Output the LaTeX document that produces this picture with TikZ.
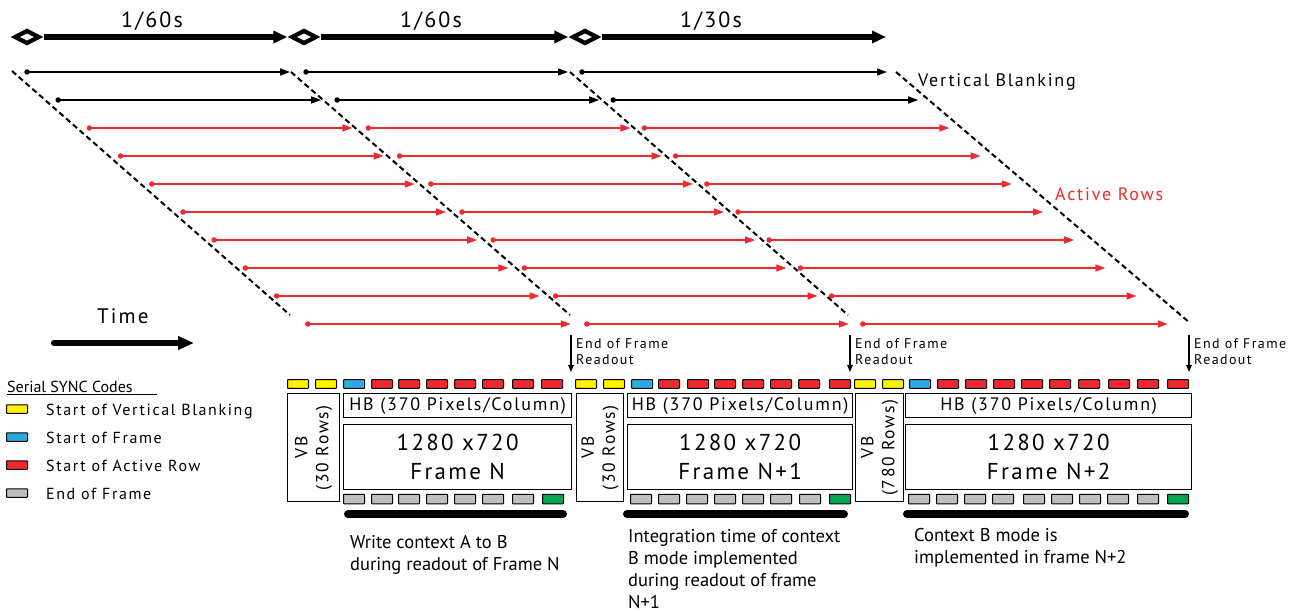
\documentclass[tikz,border=0pt]{standalone}
\usepackage{fontspec}
\setmainfont{PT Sans}
\newfontfamily\trk[LetterSpace=10]{PT Sans}
\usetikzlibrary{arrows.meta,shapes.geometric}
\definecolor{sred}{HTML}{EE2A2E}
\definecolor{syel}{HTML}{FFF200}
\definecolor{sblu}{HTML}{29ABE2}
\definecolor{sgry}{HTML}{BEBEBE}
\definecolor{sgrn}{HTML}{00A651}
\tikzset{
  dotn/.style={circle,inner sep=0,minimum size=5.5},
  rowarrow/.style={line width=1.5,-{Triangle[length=10,width=7]}},
  tline/.style={line width=5.5,-{Triangle[length=14,width=12]}},
  dmo/.style={diamond,aspect=2,fill=black,inner sep=0,minimum width=33,minimum height=17},
  dmi/.style={diamond,aspect=2,fill=white,inner sep=0,minimum width=14,minimum height=7},
  dashl/.style={dashed,dash pattern=on 5.5 off 3.5,line width=2},
  sync/.style={draw=black,line width=1,rounded corners=0.6,minimum width=21,minimum height=8.5,inner sep=0,anchor=west},
  bsync/.style={sync,minimum height=9.5},
  frbox/.style={draw=black,line width=1.3,inner sep=0,anchor=north west},
  bar/.style={line width=8,line cap=round},
  eof/.style={line width=1.4,-{Triangle[length=7,width=5.5]}},
  lbl/.style={anchor=base west,inner sep=0},
}
\begin{document}
\begin{tikzpicture}[x=1pt,y=-1pt]
\useasboundingbox (0,0) rectangle (1299,612);
% ---------- timeline ----------
\node[dmo] (D1) at (27,37) {};
\node[dmo] (D2) at (304,37) {};
\node[dmo] (D3) at (585,37) {};
\coordinate (D4) at (886,37);
\draw[tline] (D1.east) -- (D2.west);
\draw[tline] (D2.east) -- (D3.west);
\draw[tline] (D3.east) -- (D4);
\node[dmi] at (D1) {};
\node[dmi] at (D2) {};
\node[dmi] at (D3) {};
\node[lbl,anchor=base,font=\fontsize{22}{26}\selectfont\trk] (L1) at (152,28) {1/60s};
\node[lbl,anchor=base,font=\fontsize{22}{26}\selectfont\trk] (L2) at (431,28) {1/60s};
\node[lbl,anchor=base,font=\fontsize{22}{26}\selectfont\trk] (L3) at (711,28) {1/30s};
% ---------- rows ----------
\foreach \i in {0,...,9}{
  \pgfmathsetmacro\yy{72+28*\i}
  \pgfmathsetmacro\xa{27+31.2*\i}
  \pgfmathsetmacro\ta{\xa+263}
  \pgfmathsetmacro\xb{\xa+279}
  \pgfmathsetmacro\tb{\xb+262}
  \pgfmathsetmacro\xc{\xb+276}
  \pgfmathsetmacro\tc{\xc+305}
  \ifnum\i<2 \def\col{black}\else\def\col{sred}\fi
  \node[dotn,fill=\col] (a\i) at (\xa,\yy) {};
  \node[dotn,fill=\col] (b\i) at (\xb,\yy) {};
  \node[dotn,fill=\col] (c\i) at (\xc,\yy) {};
  \coordinate (ta\i) at (\ta,\yy);
  \coordinate (tb\i) at (\tb,\yy);
  \coordinate (tc\i) at (\tc,\yy);
  \draw[rowarrow,\col] (a\i.center) -- (ta\i);
  \draw[rowarrow,\col] (b\i.center) -- (tb\i);
  \draw[rowarrow,\col] (c\i.center) -- (tc\i);
}
% ---------- dashed frame boundaries ----------
\coordinate (s1) at (12,71);  \coordinate (e1) at (290,315);
\coordinate (s2) at (291,72); \coordinate (e2) at (570,315);
\coordinate (s3) at (570,72); \coordinate (e3) at (848,315);
\coordinate (s4) at (896,72); \coordinate (e4) at (1190,323);
\draw[dashl] (s1) -- (e1);
\draw[dashl] (s2) -- (e2);
\draw[dashl] (s3) -- (e3);
\draw[dashl] (s4) -- (e4);
\node[lbl,font=\fontsize{18}{22}\selectfont\trk] (VBl) at (918,87) {Vertical Blanking};
\node[lbl,text=sred,font=\fontsize{18}{22}\selectfont\trk] (ARl) at (1055,201) {Active Rows};
% ---------- time arrow ----------
\node[lbl,font=\fontsize{21}{25}\selectfont\trk] (TIl) at (97,324) {Time};
\coordinate (ts) at (54,343); \coordinate (te) at (194,343);
\draw[line width=6,line cap=round,-{Triangle[length=16,width=13]}] (ts) -- (te);
% ---------- end of frame readout ----------
\foreach \n/\x in {1/571,2/850,3/1189}{
  \coordinate (ef\n a) at (\x,335);
  \coordinate (ef\n b) at (\x,372);
  \draw[eof] (ef\n a) -- (ef\n b);
  \node[lbl,align=left,font=\fontsize{14}{17}\selectfont\trk] (eft\n) at (\x+5,365) {End of Frame\\Readout};
}
% ---------- legend ----------
\node[lbl,font=\fontsize{16}{18}\selectfont] (lgt) at (7,392) {Serial SYNC Codes};
\draw[line width=1] (7,394.5) -- (157,394.5);
\foreach \n/\c/\t [count=\k from 0] in {1/syel/Start of Vertical Blanking,2/sblu/Start of Frame,3/sred/Start of Active Row,4/sgry/End of Frame}{
  \node[sync,fill=\c] (lg\n) at (6,409+28*\k) {};
  \node[lbl,font=\fontsize{16}{19}\selectfont\trk] (lgl\n) at (46,415+28*\k) {\t};
}
% ---------- sync code rows ----------
\foreach \x/\c in {287/syel,315/syel,343/sblu,371/sred,398/sred,426/sred,454/sred,482/sred,512/sred,541/sred,
                   575/syel,603/syel,631/sblu,658/sred,687/sred,714/sred,742/sred,770/sred,798/sred,829/sred,
                   854/syel,882/syel,909/sblu,937/sred,965/sred,993/sred,1021/sred,1049/sred,1078/sred,1108/sred,1137/sred,1167/sred}{
  \node[sync,fill=\c] at (\x,384) {};
}
\foreach \x/\c in {343/sgry,371/sgry,398/sgry,426/sgry,454/sgry,482/sgry,512/sgry,542/sgrn,
                   630/sgry,658/sgry,686/sgry,714/sgry,742/sgry,770/sgry,799/sgry,829/sgrn,
                   908/sgry,936/sgry,964/sgry,992/sgry,1023/sgry,1051/sgry,1079/sgry,1107/sgry,1137/sgry,1167/sgrn}{
  \node[bsync,fill=\c] at (\x,499) {};
}
% ---------- frame boxes ----------
\foreach \n/\va/\vb/\ha/\hb/\rows/\fr in {1/287/339/343/571/30/N,2/576/623/627/852/30/N+1,3/855/903/905/1191/780/N+2}{
  \node[frbox,minimum width=\vb-\va,minimum height=108] (vb\n) at (\va,393) {};
  \node[rotate=90,align=center,inner sep=0,font=\fontsize{17.5}{21}\selectfont\trk] at (vb\n.center) {VB\\(\rows\ Rows)};
  \node[frbox,minimum width=\hb-\ha,minimum height=24] (hb\n) at (\ha,393) {};
  \node[inner sep=0,font=\fontsize{18}{20}\selectfont\trk] at (hb\n.center) {HB (370 Pixels/Column)};
  \node[frbox,minimum width=\hb-\ha,minimum height=65] (fr\n) at (\ha,424) {};
  \node[inner sep=0,align=center,font=\fontsize{23}{29}\selectfont\trk] at (fr\n.center) {1280 x720\\Frame \fr};
}
% ---------- bars and notes ----------
\coordinate (b1a) at (348,514); \coordinate (b1b) at (563,514);
\coordinate (b2a) at (627,514); \coordinate (b2b) at (844,514);
\coordinate (b3a) at (907,514); \coordinate (b3b) at (1185,514);
\draw[bar] (b1a) -- (b1b);
\draw[bar] (b2a) -- (b2b);
\draw[bar] (b3a) -- (b3b);
\node[lbl,align=left,font=\fontsize{18.5}{21.5}\selectfont] (n1) at (350,570) {Write context A to B\\during readout of Frame N};
\node[lbl,align=left,font=\fontsize{18.5}{22}\selectfont] (n2) at (628,608) {Integration time of context\\B mode  implemented\\during readout of frame\\N+1};
\node[lbl,align=left,font=\fontsize{18.5}{21.5}\selectfont] (n3) at (914,563) {Context B mode is\\implemented in frame N+2};
\end{tikzpicture}
\end{document}
